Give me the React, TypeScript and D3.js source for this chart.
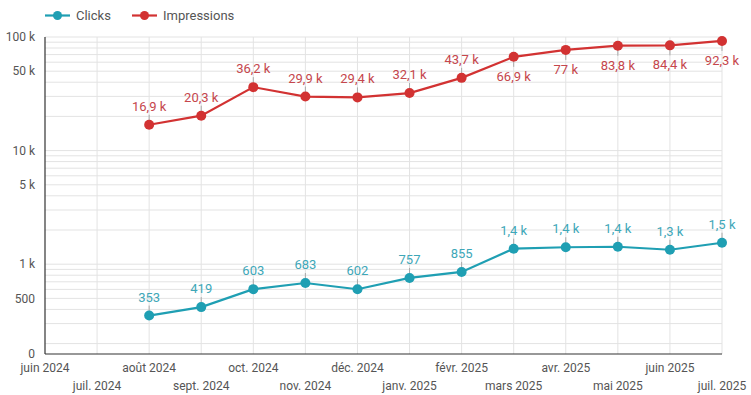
import React, { useEffect, useRef } from 'react';
import * as d3 from 'd3';

const months = [
  'juin 2024', 'juil. 2024', 'août 2024', 'sept. 2024', 'oct. 2024', 'nov. 2024',
  'déc. 2024', 'janv. 2025', 'févr. 2025', 'mars 2025', 'avr. 2025', 'mai 2025',
  'juin 2025', 'juil. 2025',
];
const dataMonths = months.slice(2);
const clicks = [353, 419, 603, 683, 602, 757, 855, 1370, 1410, 1425, 1340, 1545];
const impressions = [16900, 20300, 36200, 29900, 29400, 32100, 43700, 66900, 77000, 83800, 84400, 92300];
// labels below the point for the last impression values
const impLabelBelow = [false, false, false, false, false, false, false, true, true, true, true, true];
const yTicks = [100000, 50000, 10000, 5000, 1000, 500];

const fmt = (v: number) => {
  if (v >= 1000) {
    const k = Math.round(v / 100) / 10;
    return String(k).replace('.', ',') + ' k';
  }
  return String(v);
};

const App: React.FC = () => {
  const ref = useRef<SVGSVGElement | null>(null);

  useEffect(() => {
    const width = 751;
    const height = 395;
    const margin = { top: 37, right: 29, bottom: 41, left: 45 };
    const svg = d3.select(ref.current);
    svg.selectAll('*').remove();

    const x = d3.scalePoint<string>()
      .domain(months)
      .range([margin.left, width - margin.right]);

    const y = d3.scaleLog()
      .domain([162, 100000])
      .range([height - margin.bottom, margin.top]);

    const font = 'Roboto, sans-serif';
    const g = svg.append('g');

    // minor + major horizontal grid
    const gridVals: number[] = [];
    for (let e = 2; e <= 5; e++) {
      for (let k = 1; k <= 9; k++) {
        const v = k * Math.pow(10, e);
        if (v > 162 && v <= 100000) gridVals.push(v);
      }
    }
    g.selectAll('line.hg')
      .data(gridVals)
      .enter().append('line')
      .attr('x1', margin.left).attr('x2', width - margin.right)
      .attr('y1', d => y(d)).attr('y2', d => y(d))
      .attr('stroke', '#e3e3e3').attr('stroke-width', 1);

    // vertical grid
    g.selectAll('line.vg')
      .data(months.slice(1))
      .enter().append('line')
      .attr('x1', d => x(d)!).attr('x2', d => x(d)!)
      .attr('y1', margin.top).attr('y2', height - margin.bottom)
      .attr('stroke', '#e3e3e3').attr('stroke-width', 1);

    // axes lines
    g.append('line')
      .attr('x1', margin.left).attr('x2', margin.left)
      .attr('y1', margin.top).attr('y2', height - margin.bottom)
      .attr('stroke', '#333').attr('stroke-width', 1.2);
    g.append('line')
      .attr('x1', margin.left).attr('x2', width - margin.right)
      .attr('y1', height - margin.bottom).attr('y2', height - margin.bottom)
      .attr('stroke', '#333').attr('stroke-width', 1.2);

    // y tick labels
    g.selectAll('text.yt')
      .data(yTicks)
      .enter().append('text')
      .attr('x', margin.left - 10)
      .attr('y', d => y(d))
      .attr('dy', '0.35em')
      .attr('text-anchor', 'end')
      .attr('font-family', font).attr('font-size', 12).attr('fill', '#555')
      .text(d => fmt(d));
    g.append('text')
      .attr('x', margin.left - 10)
      .attr('y', height - margin.bottom)
      .attr('dy', '0.35em')
      .attr('text-anchor', 'end')
      .attr('font-family', font).attr('font-size', 12).attr('fill', '#555')
      .text('0');

    // x tick labels, two staggered rows
    g.selectAll('text.xt')
      .data(months)
      .enter().append('text')
      .attr('x', d => x(d)!)
      .attr('y', (d, i) => (i % 2 === 0 ? 372 : 390))
      .attr('text-anchor', 'middle')
      .attr('font-family', font).attr('font-size', 12).attr('fill', '#555')
      .text(d => d);

    const series = [
      { name: 'Clicks', values: clicks, color: '#1f9fb3', label: '#3ea7b8', below: clicks.map(() => false) },
      { name: 'Impressions', values: impressions, color: '#d23232', label: '#c5464c', below: impLabelBelow },
    ];

    const line = d3.line<number>()
      .x((d, i) => x(dataMonths[i])!)
      .y(d => y(d));

    series.forEach(s => {
      // leader lines
      g.selectAll(null)
        .data(s.values)
        .enter().append('line')
        .attr('x1', (d, i) => x(dataMonths[i])!)
        .attr('x2', (d, i) => x(dataMonths[i])!)
        .attr('y1', d => y(d))
        .attr('y2', (d, i) => y(d) + (s.below[i] ? 10 : -10))
        .attr('stroke', '#aaa').attr('stroke-width', 1);

      g.append('path')
        .datum(s.values)
        .attr('fill', 'none')
        .attr('stroke', s.color)
        .attr('stroke-width', 2.2)
        .attr('d', line);

      g.selectAll(null)
        .data(s.values)
        .enter().append('circle')
        .attr('cx', (d, i) => x(dataMonths[i])!)
        .attr('cy', d => y(d))
        .attr('r', 5)
        .attr('fill', s.color);

      g.selectAll(null)
        .data(s.values)
        .enter().append('text')
        .attr('x', (d, i) => x(dataMonths[i])!)
        .attr('y', (d, i) => y(d) + (s.below[i] ? 24 : -14))
        .attr('text-anchor', 'middle')
        .attr('font-family', font).attr('font-size', 13).attr('fill', s.label)
        .text(d => fmt(d));
    });

    // legend
    const legend = svg.append('g');
    const items = [
      { name: 'Clicks', color: '#1f9fb3', x: 45 },
      { name: 'Impressions', color: '#d23232', x: 132 },
    ];
    items.forEach(it => {
      legend.append('line')
        .attr('x1', it.x).attr('x2', it.x + 25)
        .attr('y1', 15.5).attr('y2', 15.5)
        .attr('stroke', it.color).attr('stroke-width', 2.2);
      legend.append('circle')
        .attr('cx', it.x + 12.5).attr('cy', 15.5).attr('r', 4.5)
        .attr('fill', it.color);
      legend.append('text')
        .attr('x', it.x + 31).attr('y', 15.5).attr('dy', '0.35em')
        .attr('font-family', font).attr('font-size', 13).attr('fill', '#555')
        .text(it.name);
    });
  }, []);

  return (
    <svg
      ref={ref}
      width={751}
      height={395}
      style={{ position: 'absolute', left: 0, top: 0, background: '#fff' }}
    />
  );
};

export default App;
